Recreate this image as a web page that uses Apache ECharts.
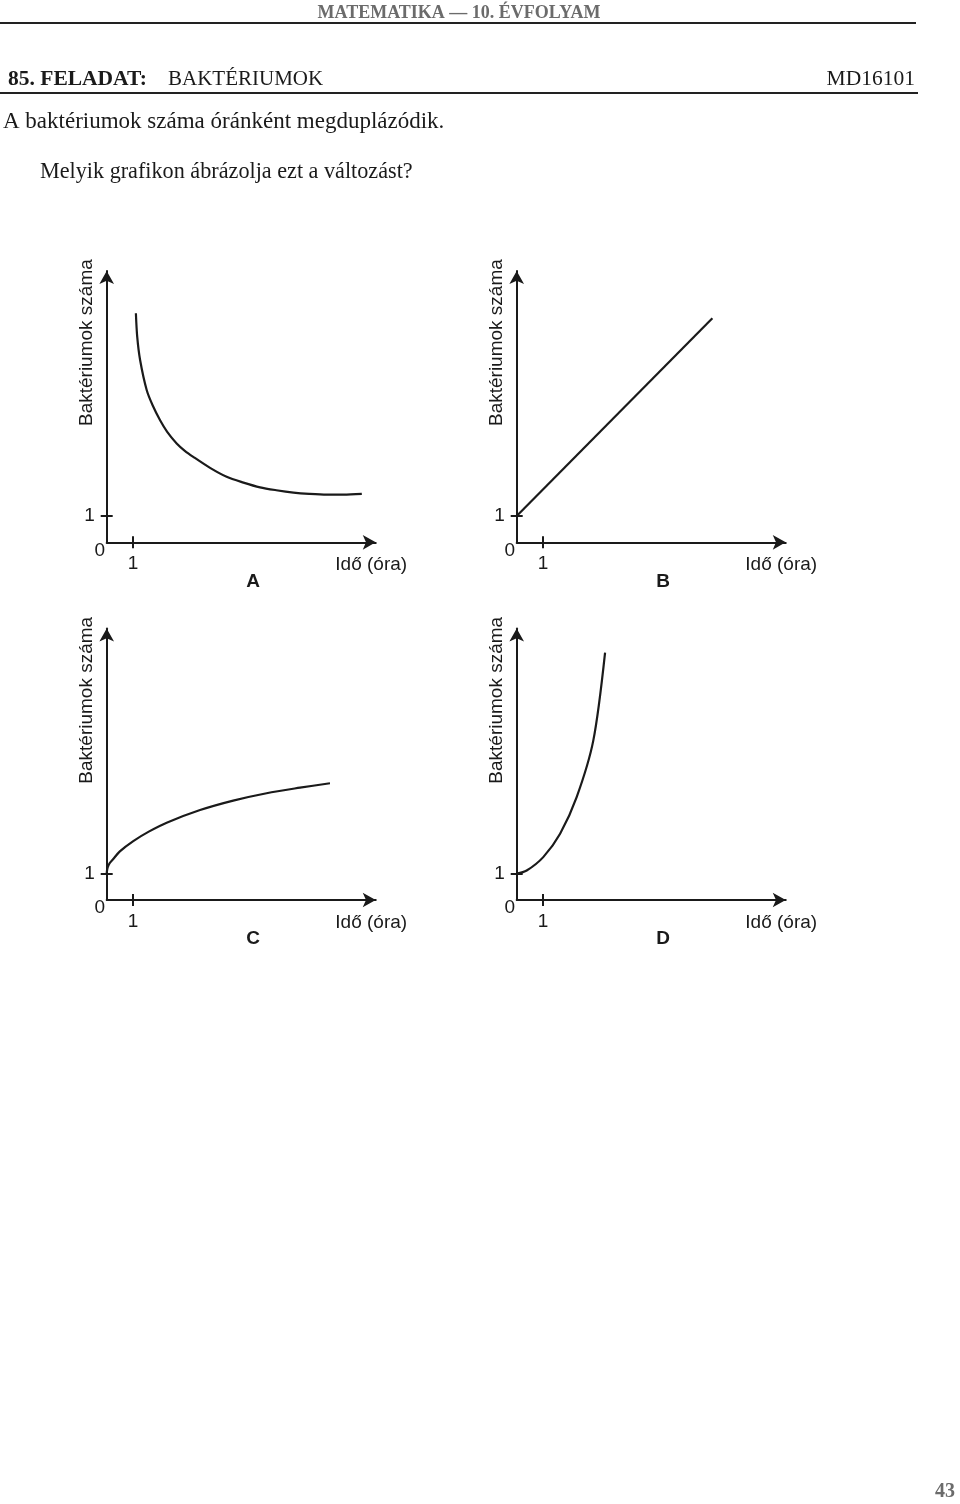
<!DOCTYPE html>
<html>
<head>
<meta charset="utf-8">
<script src="https://cdn.jsdelivr.net/npm/echarts@6/dist/echarts.min.js"></script>
<style>
  html, body { margin: 0; padding: 0; background: #fff; }
  #page { width: 960px; height: 1504px; }
</style>
</head>
<body>
<div id="page"></div>
<script>
// values (x = hours, y = bacteria count)
const aX = [1.11, 1.16, 1.27, 1.52, 1.75, 2.03, 2.3, 2.66, 2.97, 3.29, 3.93, 4.56, 5.2, 5.83, 6.45, 7.10, 7.7, 8.37, 9.0, 9.70];
const aY = [8.71, 7.82, 6.93, 5.79, 5.2, 4.64, 4.2, 3.76, 3.48, 3.25, 2.83, 2.49, 2.27, 2.09, 1.98, 1.89, 1.84, 1.81, 1.81, 1.84];
const bX = [0, 7.44];
const bY = [1, 8.52];
const cX = [0, 0.02, 0.06, 0.12, 0.25, 0.5, 1.01, 1.6, 2.28, 3.55, 4.81, 6.08, 7.35, 8.49];
const cY = [1, 1.17, 1.3, 1.41, 1.56, 1.85, 2.24, 2.6, 2.94, 3.42, 3.78, 4.06, 4.27, 4.44];
const dX = [0, 0.38, 1.01, 1.65, 2.28, 2.91, 3.36];
const dY = [1, 1.12, 1.63, 2.52, 3.91, 6.05, 9.41];
const panelNames = ["A", "B", "C", "D"];
const tickValues = [1];
const yName = "Baktériumok száma";
const xName = "Idő (óra)";

// layout
const U = 26.3;          // pixels per unit
const XMAX = 10.23;
const YMAX = 10.32;
const lefts = [106.7, 516.7, 106.7, 516.7];
const bases = [542.3, 542.3, 900, 900];
const ink = "#1a1a1a";
const sans = "'Liberation Sans', Arial, sans-serif";
const serif = "'Liberation Serif', 'Times New Roman', serif";

const pairs = (xs, ys) => xs.map((x, i) => [x, ys[i]]);
const curves = [pairs(aX, aY), pairs(bX, bY), pairs(cX, cY), pairs(dX, dY)];

const grid = [], xAxis = [], yAxis = [], series = [], graphic = [];

for (let i = 0; i < 4; i++) {
  grid.push({
    left: lefts[i],
    top: bases[i] - YMAX * U,
    width: XMAX * U,
    height: YMAX * U,
  });
  // main axes: line, arrow, labels, names, outer half of tick
  xAxis.push({
    type: "value", gridIndex: i, min: 0, max: XMAX, position: "bottom",
    splitLine: { show: false },
    axisLine: { show: true, onZero: false, symbol: ["none", "arrow"], symbolSize: [11, 13],
      lineStyle: { color: ink, width: 2 } },
    axisTick: { show: true, customValues: tickValues, length: 6, inside: false,
      lineStyle: { color: ink, width: 2 } },
    axisLabel: { show: true, customValues: tickValues, margin: 12,
      color: ink, fontFamily: sans, fontSize: 19 },
    name: xName, nameLocation: "middle", nameGap: 13, nameMoveOverlap: false,
    nameTextStyle: { color: ink, fontFamily: sans, fontSize: 19, padding: [0, 0, 0, 260] },
  });
  yAxis.push({
    type: "value", gridIndex: i, min: 0, max: YMAX, position: "left",
    splitLine: { show: false },
    axisLine: { show: true, onZero: false, symbol: ["none", "arrow"], symbolSize: [11, 13],
      lineStyle: { color: ink, width: 2 } },
    axisTick: { show: true, customValues: tickValues, length: 6, inside: false,
      lineStyle: { color: ink, width: 2 } },
    axisLabel: { show: true, customValues: tickValues, margin: 12,
      color: ink, fontFamily: sans, fontSize: 19 },
    name: yName, nameLocation: "middle", nameRotate: 90, nameGap: 10, nameMoveOverlap: false,
    nameTextStyle: { color: ink, fontFamily: sans, fontSize: 19, padding: [0, 0, 0, 128] },
  });
}
// helper axes: inner half of the crossing ticks
for (let i = 0; i < 4; i++) {
  xAxis.push({
    type: "value", gridIndex: i, min: 0, max: XMAX, position: "bottom",
    splitLine: { show: false }, axisLine: { show: false, onZero: false },
    axisTick: { show: true, customValues: tickValues, length: 6, inside: true,
      lineStyle: { color: ink, width: 2 } },
    axisLabel: { show: false },
  });
  yAxis.push({
    type: "value", gridIndex: i, min: 0, max: YMAX, position: "left",
    splitLine: { show: false }, axisLine: { show: false, onZero: false },
    axisTick: { show: true, customValues: tickValues, length: 6, inside: true,
      lineStyle: { color: ink, width: 2 } },
    axisLabel: { show: false },
  });
}

curves.forEach((data, i) => {
  series.push({
    type: "line", xAxisIndex: i, yAxisIndex: i, data: data,
    showSymbol: false, smooth: i === 1 ? false : 0.3,
    lineStyle: { color: ink, width: 2.2 }, silent: true, animation: false,
  });
  // origin "0" and panel letter
  graphic.push({ type: "text", x: lefts[i] - 7, y: bases[i] + 8,
    style: { text: "0", font: "19px " + sans, fill: ink, align: "center", verticalAlign: "middle" } });
  graphic.push({ type: "text", x: lefts[i] + 146.5, y: bases[i] + 39,
    style: { text: panelNames[i], font: "bold 19px " + sans, fill: ink, align: "center", verticalAlign: "middle" } });
});

// page header
graphic.push(
  { type: "text", x: 459, y: 13,
    style: { text: "MATEMATIKA — 10. ÉVFOLYAM", font: "bold 18px " + serif, fill: "#6b6b6b",
      align: "center", verticalAlign: "middle" } },
  { type: "line", shape: { x1: 0, y1: 23, x2: 916, y2: 23 }, style: { stroke: "#222", lineWidth: 2 } },
  { type: "text", x: 8, y: 79,
    style: { text: "85. FELADAT:", font: "bold 21.5px " + serif, fill: ink, align: "left", verticalAlign: "middle" } },
  { type: "text", x: 168, y: 79,
    style: { text: "BAKTÉRIUMOK", font: "21px " + serif, fill: ink, align: "left", verticalAlign: "middle" } },
  { type: "text", x: 915, y: 79,
    style: { text: "MD16101", font: "21.5px " + serif, fill: ink, align: "right", verticalAlign: "middle" } },
  { type: "line", shape: { x1: 0, y1: 93, x2: 918, y2: 93 }, style: { stroke: "#222", lineWidth: 2 } },
  { type: "text", x: 3, y: 122,
    style: { text: "A baktériumok száma óránként megduplázódik.", font: "23px " + serif, fill: ink,
      align: "left", verticalAlign: "middle" } },
  { type: "text", x: 40, y: 172,
    style: { text: "Melyik grafikon ábrázolja ezt a változást?", font: "22.2px " + serif, fill: ink,
      align: "left", verticalAlign: "middle" } },
  { type: "text", x: 945, y: 1492,
    style: { text: "43", font: "bold 20px " + serif, fill: "#6b6b6b", align: "center", verticalAlign: "middle" } }
);

const chart = echarts.init(document.getElementById("page"), null, { renderer: "canvas" });
chart.setOption({
  backgroundColor: "#fff",
  animation: false,
  grid: grid,
  xAxis: xAxis,
  yAxis: yAxis,
  series: series,
  graphic: graphic,
});
</script>
</body>
</html>
